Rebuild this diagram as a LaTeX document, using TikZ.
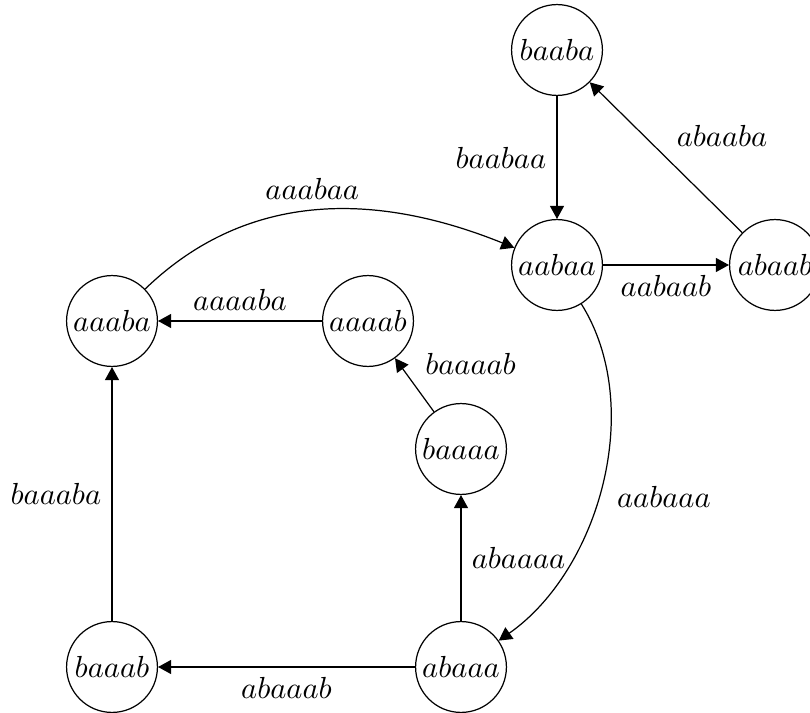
\documentclass[tikz,border=0pt]{standalone}
\usetikzlibrary{arrows.meta}
\begin{document}
\begin{tikzpicture}[x=0.328pt,y=-0.328pt,
  state/.style={draw,circle,minimum size=29.8pt,inner sep=0.5pt,line width=0.4pt},
  edge/.style={-{Triangle[length=4.3pt,width=4.6pt]},line width=0.4pt}]
\useasboundingbox (0,0) rectangle (810,713);
\node[state] (baaba) at (557,50) {$baaba$};
\node[state] (aabaa) at (557,265) {$aabaa$};
\node[state] (abaab) at (775,265) {$abaab$};
\node[state] (aaaba) at (112,321) {$aaaba$};
\node[state] (aaaab) at (368,321) {$aaaab$};
\node[state] (baaaa) at (461,449) {$baaaa$};
\node[state] (baaab) at (112,667) {$baaab$};
\node[state] (abaaa) at (461,667) {$abaaa$};
\draw[edge] (baaba) -- node[left] {$baabaa$} (aabaa);
\draw[edge] (abaab) -- node[anchor=south west] {$abaaba$} (baaba);
\draw[edge] (aabaa) -- node[below] {$aabaab$} (abaab);
\draw[edge] (aaaba) to[out=44,in=158] node[above,xshift=-2pt] {$aaabaa$} (aabaa);
\draw[edge] (aaaab) -- node[above] {$aaaaba$} (aaaba);
\draw[edge] (baaaa) -- node[anchor=south west] {$baaaab$} (aaaab);
\draw[edge] (abaaa) -- node[right] {$abaaaa$} (baaaa);
\draw[edge] (aabaa) to[out=-58,in=35,looseness=0.9] node[anchor=north west,xshift=1.5pt,yshift=3pt] {$aabaaa$} (abaaa);
\draw[edge] (abaaa) -- node[below] {$abaaab$} (baaab);
\draw[edge] (baaab) -- node[left] {$baaaba$} (aaaba);
\end{tikzpicture}
\end{document}
